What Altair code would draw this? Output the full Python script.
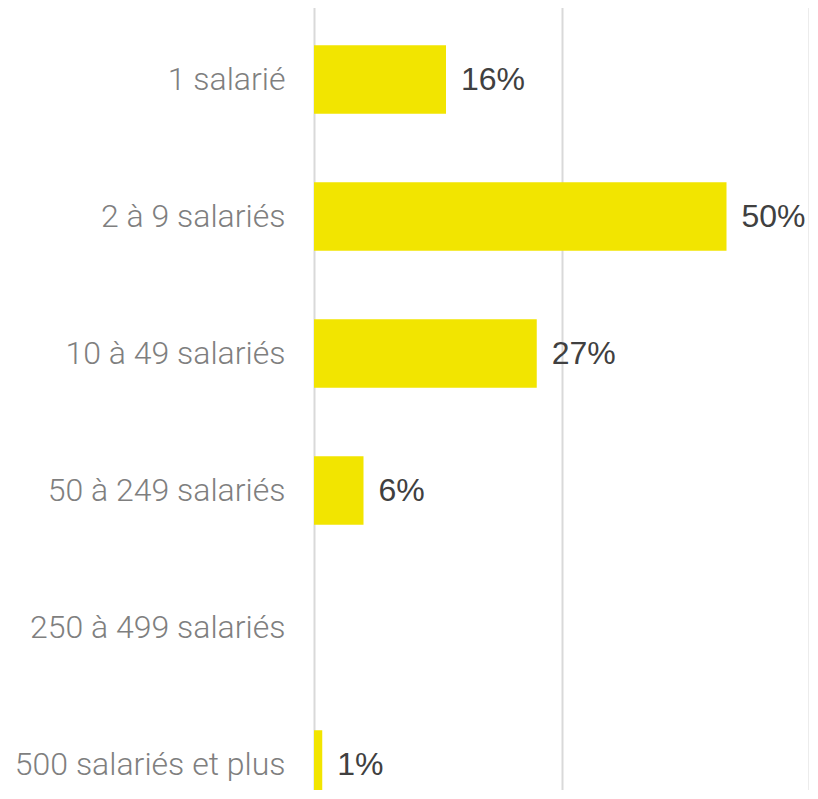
import altair as alt
import pandas as pd

categories = ["1 salarié", "2 à 9 salariés", "10 à 49 salariés", "50 à 249 salariés",
              "250 à 499 salariés", "500 salariés et plus"]
values = [16, 50, 27, 6, None, 1]
labels = ["16%", "50%", "27%", "6%", "", "1%"]

df = pd.DataFrame({"cat": categories, "val": values, "lab": labels})

y = alt.Y("cat:N", sort=categories, title=None,
          scale=alt.Scale(range=[0, 822], paddingInner=0.5, paddingOuter=0.25),
          axis=alt.Axis(labelFont="Roboto", labelFontWeight=300, labelFontSize=32,
                        labelColor="#7f7f7f", labelPadding=29, ticks=False,
                        domain=False, labelLimit=400))
x = alt.X("val:Q", title=None, scale=alt.Scale(domain=[0, 60]),
          axis=alt.Axis(values=[0, 30, 60], labels=False, ticks=False, domain=False,
                        grid=True, gridColor="#d9d9d9", gridWidth=2))

bars = alt.Chart(df).mark_bar(color="#F2E500").encode(x=x, y=y)
text = alt.Chart(df).transform_filter("datum.val != null").mark_text(
    align="left", baseline="middle", dx=15, font="Liberation Sans", fontSize=32,
    color="#404040").encode(x="val:Q", y=alt.Y("cat:N", sort=categories), text="lab:N")

chart = (bars + text).properties(
    width=495, height=779,
    autosize=alt.AutoSizeParams(type="none"),
    padding={"left": 306, "top": 3, "right": 0, "bottom": 0},
).configure_view(stroke=None)

chart.save("out.html", embed_options={"renderer": "svg", "actions": False})
